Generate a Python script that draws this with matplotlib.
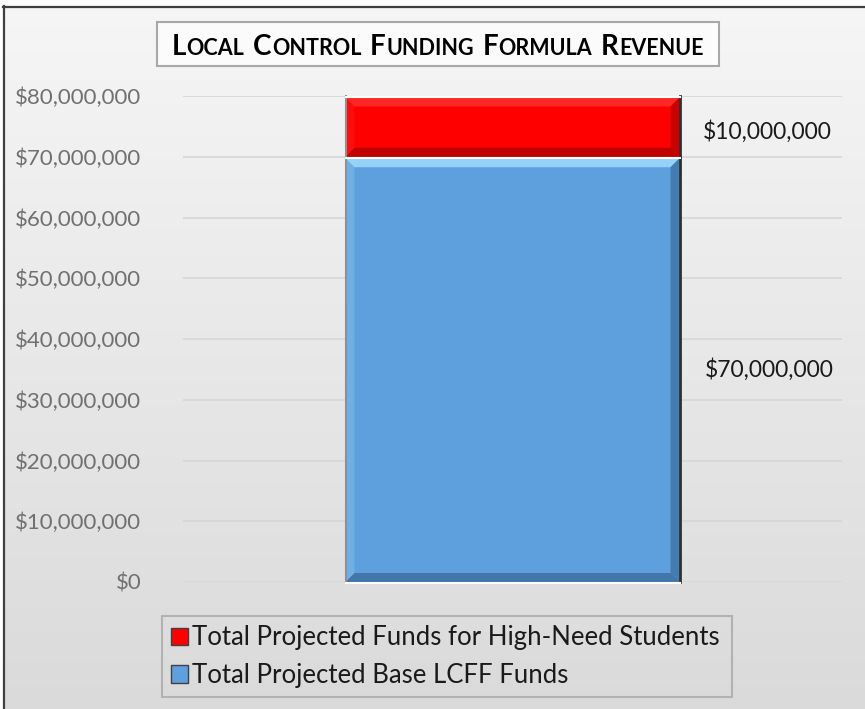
import numpy as np
import matplotlib
matplotlib.use('Agg')
import matplotlib.pyplot as plt
from matplotlib.patches import Rectangle, Polygon, Patch
from matplotlib.transforms import IdentityTransform, blended_transform_factory

## DADOS
categorias = ['LCFF']
base_lcff = [70000000]
alta_necessidade = [10000000]
series_labels = ['Total Projected Funds for High-Need Students', 'Total Projected Base LCFF Funds']
yticks = [0, 10000000, 20000000, 30000000, 40000000, 50000000, 60000000, 70000000, 80000000]
title_words = ['Local', 'Control', 'Funding', 'Formula', 'Revenue']

FONT = 'Lato'
W, H = 865, 709

fig = plt.figure(figsize=(W / 100, H / 100), dpi=100)

# fundo com degradê cinza
bg = fig.add_axes([0, 0, 1, 1], zorder=-10)
grad = np.linspace(0.965, 0.855, 256).reshape(-1, 1)
bg.imshow(np.dstack([grad, grad, grad]), aspect='auto', extent=[0, 1, 0, 1])
bg.set_xlim(0, 1)
bg.set_ylim(0, 1)
bg.axis('off')

# borda recortada (topo e esquerda)
px = IdentityTransform()
fig.patches.append(Rectangle((0, H - 6), W, 6, transform=px, facecolor='white', edgecolor='none', zorder=-5))
fig.patches.append(Rectangle((0, 0), 3, H, transform=px, facecolor='white', edgecolor='none', zorder=-5))
fig.lines.append(plt.Line2D([3, W], [H - 6.5, H - 6.5], transform=px, color='#404040', lw=1.6))
fig.lines.append(plt.Line2D([3.5, 3.5], [0, H - 6], transform=px, color='#404040', lw=1.6))

ax = fig.add_axes([183 / W, 1 - 582 / H, (842 - 183) / W, (582 - 96) / H])
ax.set_facecolor('none')

x = np.arange(len(categorias))
largura = 334 / 659
cor_azul = '#5e9fdd'
cor_vermelho = '#ff0000'
bars_base = ax.bar(x, base_lcff, width=largura, color=cor_azul, edgecolor='none', zorder=3)
bars_alta = ax.bar(x, alta_necessidade, bottom=base_lcff, width=largura, color=cor_vermelho,
                   edgecolor='none', zorder=3)

ax.set_xlim(-0.5, 0.5)
ax.set_ylim(0, 80000000)
ax.set_yticks(yticks)
ax.set_yticklabels([f'${v:,.0f}' for v in yticks], fontsize=16, color='#707070', family=FONT)
ax.set_xticks([])
ax.tick_params(axis='y', length=0, pad=30)
ax.grid(axis='y', color='#d6d6d6', lw=1.2, zorder=0)
for s in ax.spines.values():
    s.set_visible(False)


# efeito de bisel nas barras
def bisel(bar, claro, escuro, b=9):
    (x0, y0), (x1, y1) = ax.transData.transform([(bar.get_x(), bar.get_y()),
                                                  (bar.get_x() + bar.get_width(), bar.get_y() + bar.get_height())])
    y1 -= 1.5
    topo = [(x0, y1), (x1, y1), (x1 - b, y1 - b), (x0 + b, y1 - b)]
    base = [(x0, y0), (x1, y0), (x1 - b, y0 + b), (x0 + b, y0 + b)]
    esq = [(x0, y0), (x0, y1), (x0 + b, y1 - b), (x0 + b, y0 + b)]
    dir_ = [(x1, y0), (x1, y1), (x1 - b, y1 - b), (x1 - b, y0 + b)]
    for pts, c, a in [(topo, claro, 0.8), (base, escuro, 0.8), (esq, claro, 0.25), (dir_, escuro, 0.7)]:
        fig.patches.append(Polygon(pts, closed=True, transform=px, facecolor=c, edgecolor='none',
                                   alpha=a, zorder=4))
    fig.lines.append(plt.Line2D([x1, x1], [y0, y1 + 1.5], transform=px, color='#303030', lw=2, zorder=5))
    fig.lines.append(plt.Line2D([x0, x0], [y0, y1 + 1.5], transform=px, color='#909090', lw=1.5, zorder=5))
    fig.lines.append(plt.Line2D([x0, x1], [y1 + 0.75, y1 + 0.75], transform=px, color='white', lw=1.5, zorder=5))


bisel(bars_alta[0], '#ff3030', '#b00000')
bisel(bars_base[0], '#a3e0ff', '#3b6e9e')
(bx0, by0) = ax.transData.transform((bars_base[0].get_x(), 0))
(bx1, _) = ax.transData.transform((bars_base[0].get_x() + largura, 0))
fig.lines.append(plt.Line2D([bx0, bx1], [by0 - 1, by0 - 1], transform=px, color='white', lw=1.5, zorder=5))

# rótulos de valor
trans = blended_transform_factory(ax.transAxes, ax.transData)
for i in range(len(categorias)):
    ax.text(0.89, base_lcff[i] / 2, f'${base_lcff[i]:,.0f}', transform=trans, ha='center', va='center',
            fontsize=16.5, color='#1a1a1a', family=FONT)
    ax.text(0.887, base_lcff[i] + alta_necessidade[i] / 2 - 800000, f'${alta_necessidade[i]:,.0f}',
            transform=trans, ha='center', va='center', fontsize=16.5, color='#1a1a1a', family=FONT)

# título em versalete dentro de caixa
fig.patches.append(Rectangle((157, H - 66), 562, 44, transform=px, facecolor='#fbfbfb',
                             edgecolor='#a8a8a8', lw=1.5, zorder=1))
renderer = fig.canvas.get_renderer()
big, small, gap = 20, 15.5, 8
baseline = H - 55
pecas = []
cur = 0
for w in title_words:
    for s, size in [(w[0].upper(), big), (w[1:].upper(), small)]:
        t = fig.text(0, baseline, s, transform=px, fontsize=size, fontweight='bold', family=FONT,
                     va='baseline', ha='left', color='black', zorder=2)
        wd = t.get_window_extent(renderer).width
        pecas.append((t, cur))
        cur += wd + 0.5
    cur += gap
total = cur - gap
x_ini = 438 - total / 2
for t, off in pecas:
    t.set_x(x_ini + off)

# legenda
handles = [Patch(facecolor=cor_vermelho, edgecolor='#404040', lw=1),
           Patch(facecolor=cor_azul, edgecolor='#404040', lw=1)]
leg = fig.legend(handles, series_labels, loc='lower left',
                 bbox_to_anchor=(162 / W, 1 - 697 / H, (732 - 162) / W, (697 - 611) / H),
                 mode='expand', prop={'family': FONT, 'size': 18.5},
                 handlelength=0.65, handleheight=0.65, handletextpad=0.15, labelspacing=0.5,
                 borderaxespad=0, borderpad=0.35, frameon=True, fancybox=False)
leg.get_frame().set_facecolor('none')
leg.get_frame().set_edgecolor('#a8a8a8')
leg.get_frame().set_linewidth(1.5)
for txt in leg.get_texts():
    txt.set_color('#1a1a1a')

fig.savefig('out.png', dpi=100)
